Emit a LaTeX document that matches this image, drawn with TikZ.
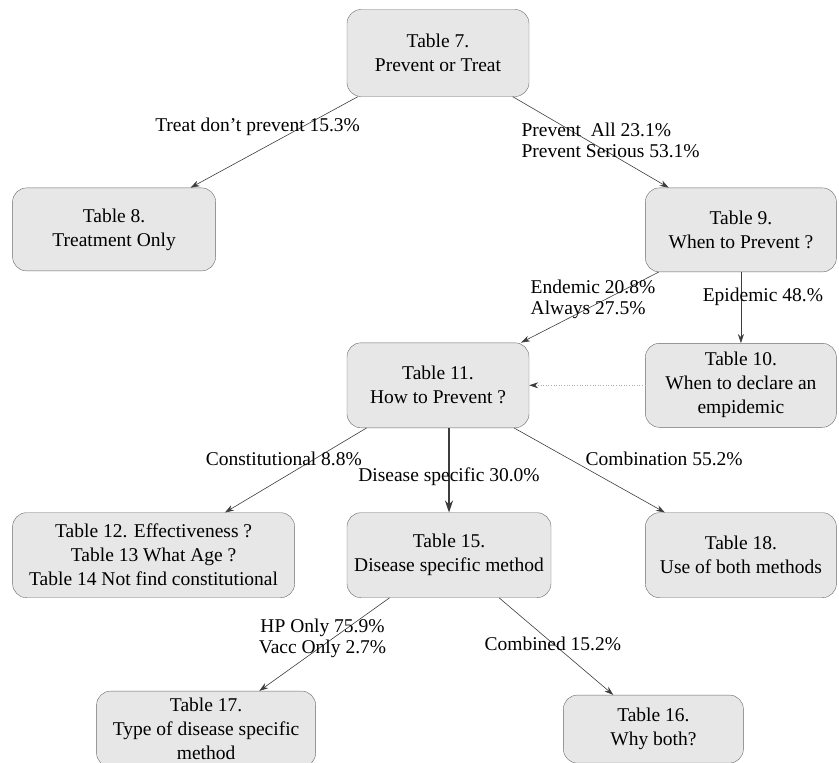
\documentclass[tikz,border=0pt]{standalone}
\usepackage{fontspec}
\setmainfont{Liberation Serif}
\usepackage{tikz}
\usetikzlibrary{arrows.meta,positioning}
\definecolor{boxfill}{RGB}{231,231,231}
\definecolor{boxline}{RGB}{105,105,105}
\definecolor{edgeline}{RGB}{60,60,60}
\definecolor{dotline}{RGB}{170,170,170}

\begin{document}
\begin{tikzpicture}[x=1pt,y=1pt,
  tbl/.style={draw=boxline,fill=boxfill,rounded corners=14pt,align=center,inner sep=2pt,font=\fontsize{19.5}{24}\selectfont},
  lbl/.style={inner sep=0pt,font=\fontsize{19.5}{21}\selectfont},
  link/.style={-{Stealth[length=9pt,width=6pt]},draw=edgeline,line width=0.6pt},
  mainlink/.style={-{Stealth[length=12pt,width=8pt]},draw=edgeline,line width=1.2pt}]
\useasboundingbox (0,0) rectangle (839,-763);
\clip (0,0) rectangle (839,-763);
\node[tbl,minimum width=182pt,minimum height=87pt] (t7) at (438,-53) {Table 7.\\Prevent or Treat};
\node[tbl,minimum width=203pt,minimum height=83pt,below left=91pt and 131pt of t7] (t8) {Table 8.\\Treatment Only};
\node[tbl,minimum width=191pt,minimum height=84pt,below right=91pt and 116pt of t7] (t9) {Table 9.\\When to Prevent ?};
\node[tbl,minimum width=191pt,minimum height=84pt,below=71pt of t9] (t10) {Table 10.\\When to declare an\\empidemic};
\node[tbl,minimum width=182pt,minimum height=85pt,left=116pt of t10] (t11) {Table 11.\\How to Prevent ?};
\node[tbl,minimum width=191pt,minimum height=85pt,below=85pt of t10] (t18) {Table 18.\\Use of both methods};
\node[tbl,minimum width=204pt,minimum height=85pt,left=94pt of t18] (t15) {Table 15.\\Disease specific method};
\node[tbl,minimum width=282pt,minimum height=85pt,left=52pt of t15] (t12) {Table 12. Effectiveness ?\\Table 13 What Age ?\\Table 14 Not find constitutional};
\node[tbl,minimum width=219pt,minimum height=76pt,inner sep=0pt,below left=93pt and 31pt of t15] (t17) {Table 17.\\Type of disease specific\\method};
\node[tbl,minimum width=180pt,minimum height=68pt,below right=97pt and 12pt of t15] (t16) {Table 16.\\Why both?};
% edges with their shares
\draw[link] (t7) -- node[lbl,pos=0.33,xshift=-45pt] {Treat don't prevent 15.3\%} (t8);
\draw[link] (t7) -- node[lbl,align=left,pos=0.48,xshift=23pt] {Prevent\ \ All 23.1\%\\Prevent Serious 53.1\%} (t9);
\draw[link] (t9) -- node[lbl,align=left,pos=0.39,xshift=-12pt] {Endemic 20.8\%\\Always 27.5\%} (t11);
\draw[link] (t9) -- node[lbl,pos=0.35,xshift=22pt] {Epidemic 48.\%} (t10);
\draw[link,draw=dotline,dotted,-{Stealth[length=9pt,width=6pt,color=edgeline]}] (t10) -- (t11);
\draw[link] (t11) -- node[lbl,pos=0.365,xshift=-31pt] {Constitutional 8.8\%} (t12);
\draw[mainlink] (t15.north |- t11.south) -- node[lbl,pos=0.58] {Disease specific 30.0\%} (t15.north);
\draw[link] (t11) -- node[lbl,pos=0.365,xshift=95pt] {Combination 55.2\%} (t18);
\draw[link] (t15) -- node[lbl,align=center,pos=0.43,xshift=-11pt] {HP Only 75.9\%\\Vacc Only 2.7\%} (t17);
\draw[link] (t15) -- node[lbl,pos=0.47] {Combined 15.2\%} (t16);
\end{tikzpicture}
\end{document}
